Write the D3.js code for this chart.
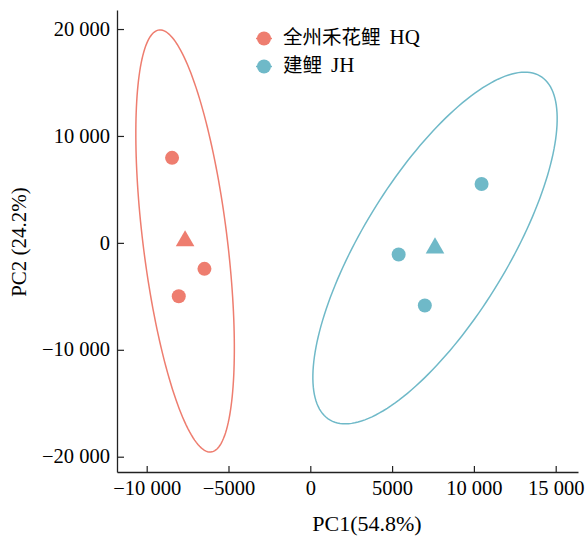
<!DOCTYPE html>
<html><head><meta charset="utf-8">
<script src="https://cdn.jsdelivr.net/npm/d3@7"></script>
<style>body{margin:0;background:#fff}svg{display:block}</style>
</head><body>
<script>
// ---- data ----
const groupNamesCN = ["全州禾花鲤", "建鲤"];
const groupCodes = ["HQ", "JH"];
const groupColors = ["#EE7D6F", "#6FB9C8"];
const hqPC1 = [-8450, -6470, -8040];
const hqPC2 = [7950, -2430, -4990];
const jhPC1 = [10470, 5400, 7000];
const jhPC2 = [5510, -1090, -5860];
const xTicks = [-10000, -5000, 0, 5000, 10000, 15000];
const xTickLabels = ["\u221210 000", "\u22125000", "0", "5000", "10 000", "15 000"];
const yTicks = [20000, 10000, 0, -10000, -20000];
const yTickLabels = ["20 000", "10 000", "0", "\u221210 000", "\u221220 000"];
const ellipseScale = 8.3; // covariance multiplier for the confidence ellipse
const xTitle = "PC1(54.8%)";
const yTitle = "PC2 (24.2%)";

const W = 586, H = 538;
const svg = d3.select("body").append("svg").attr("width", W).attr("height", H);
const serif = "'Liberation Serif','Times New Roman',serif";
const x = d3.scaleLinear().domain([-11815, 16363]).range([117, 578]);
const y = d3.scaleLinear().domain([-21430, 21780]).range([472, 10]);

const series = [
  {cn: groupNamesCN[0], code: groupCodes[0], color: groupColors[0], xs: hqPC1, ys: hqPC2},
  {cn: groupNamesCN[1], code: groupCodes[1], color: groupColors[1], xs: jhPC1, ys: jhPC2}
];

// ellipses
series.forEach(s => {
  const n = s.xs.length;
  const mx = d3.mean(s.xs), my = d3.mean(s.ys);
  let sxx = 0, syy = 0, sxy = 0;
  for (let i = 0; i < n; i++) {
    const dx = s.xs[i] - mx, dy = s.ys[i] - my;
    sxx += dx * dx; syy += dy * dy; sxy += dx * dy;
  }
  sxx /= (n - 1); syy /= (n - 1); sxy /= (n - 1);
  sxx *= ellipseScale; syy *= ellipseScale; sxy *= ellipseScale;
  const tr = sxx + syy, det = sxx * syy - sxy * sxy;
  const l1 = tr / 2 + Math.sqrt(tr * tr / 4 - det), l2 = tr / 2 - Math.sqrt(tr * tr / 4 - det);
  const theta = Math.atan2(l1 - sxx, sxy);
  const a = Math.sqrt(l1), b = Math.sqrt(l2);
  const pts = d3.range(0, 361, 2).map(deg => {
    const t = deg * Math.PI / 180;
    const ex = a * Math.cos(t), ey = b * Math.sin(t);
    return [mx + ex * Math.cos(theta) - ey * Math.sin(theta), my + ex * Math.sin(theta) + ey * Math.cos(theta)];
  });
  svg.append("path")
    .attr("d", d3.line().x(d => x(d[0])).y(d => y(d[1])).curve(d3.curveLinearClosed)(pts))
    .attr("fill", "none").attr("stroke", s.color).attr("stroke-width", 1.5);
  s.mx = mx; s.my = my;
});

// points
series.forEach(s => {
  svg.append("g").selectAll("circle").data(s.xs).join("circle")
    .attr("cx", d => x(d)).attr("cy", (d, i) => y(s.ys[i])).attr("r", 7)
    .attr("fill", s.color);
  svg.append("path")
    .attr("d", d3.symbol(d3.symbolTriangle, 150)())
    .attr("transform", `translate(${x(s.mx)},${y(s.my)})`)
    .attr("fill", s.color);
});

// axes
const axisColor = "#222";
const gx = svg.append("g").attr("transform", "translate(0,472)")
  .call(d3.axisBottom(x).tickValues(xTicks).tickFormat((d, i) => xTickLabels[i]).tickSizeInner(-6).tickSizeOuter(0).tickPadding(8));
const gy = svg.append("g").attr("transform", "translate(117,0)")
  .call(d3.axisLeft(y).tickValues(yTicks).tickFormat((d, i) => yTickLabels[i]).tickSizeInner(-7).tickSizeOuter(0).tickPadding(7));
[gx, gy].forEach(g => {
  g.select(".domain").attr("stroke", axisColor).attr("stroke-width", 1.3);
  g.selectAll(".tick line").attr("stroke", axisColor).attr("stroke-width", 1.2);
  g.selectAll("text").attr("font-family", serif).attr("font-size", 20.5).attr("fill", "#000");
});
gy.selectAll("text").attr("dy", "0.3em");

// titles
svg.append("text").attr("x", 367).attr("y", 531).attr("text-anchor", "middle")
  .attr("font-family", serif).attr("font-size", 22).text(xTitle);
svg.append("text").attr("transform", "translate(26,242) rotate(-90)").attr("text-anchor", "middle")
  .attr("font-family", serif).attr("font-size", 21).text(yTitle);

// legend
const lg = svg.append("g");
series.forEach((s, i) => {
  const cy = 38.5 + i * 28;
  lg.append("line").attr("x1", 256).attr("x2", 272).attr("y1", cy).attr("y2", cy)
    .attr("stroke", s.color).attr("stroke-width", 1.5);
  lg.append("circle").attr("cx", 264).attr("cy", cy).attr("r", 7).attr("fill", s.color);
  const t = lg.append("text").attr("x", 283).attr("y", cy).attr("dy", "0.36em");
  t.append("tspan").attr("font-family", "'Noto Sans CJK SC',sans-serif").attr("font-size", 19.5).text(s.cn);
  t.append("tspan").attr("dx", 9).attr("font-family", serif).attr("font-size", 21).text(s.code);
});
</script>
</body></html>
